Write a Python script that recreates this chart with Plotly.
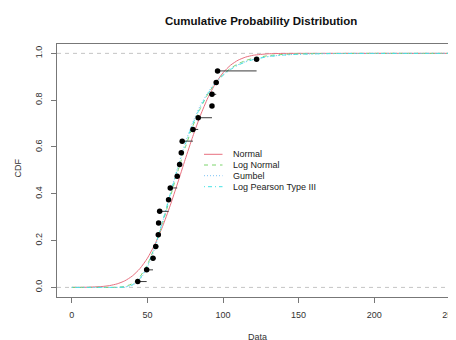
import plotly.graph_objects as go

# ---------------- data ----------------
obs_x = [43.6, 49.5, 53.7, 55.5, 57.2, 57.4, 58.1, 64.0, 65.1, 69.7,
         71.3, 72.4, 73.0, 80.1, 83.6, 92.7, 92.7, 95.5, 96.4, 122.2]
obs_p = [0.025, 0.075, 0.125, 0.175, 0.225, 0.275, 0.325, 0.375, 0.425, 0.475,
         0.525, 0.575, 0.625, 0.675, 0.725, 0.775, 0.825, 0.875, 0.925, 0.975]

curve_x = [0, 10, 20, 25, 30, 35, 40, 45, 50, 55, 60, 65, 70, 75, 80, 85, 90, 95,
           100, 105, 110, 115, 120, 130, 140, 150, 165, 180, 200, 225, 250]
cdf_normal = [0.0001, 0.0007, 0.0038, 0.0078, 0.0152, 0.0279, 0.0486, 0.08, 0.1248, 0.1848,
              0.2599, 0.3483, 0.4458, 0.5468, 0.6447, 0.734, 0.8102, 0.8712, 0.9171, 0.9495,
              0.9709, 0.9841, 0.9918, 0.9982, 0.9997, 1.0, 1.0, 1.0, 1.0, 1.0, 1.0]
cdf_lognormal = [0.0, 0.0, 0.0, 0.0, 0.0006, 0.004, 0.0161, 0.045, 0.0977, 0.1755,
                 0.2736, 0.3829, 0.4935, 0.5971, 0.6883, 0.7647, 0.826, 0.8737, 0.9097, 0.9363,
                 0.9555, 0.9692, 0.9789, 0.9902, 0.9956, 0.998, 0.9994, 0.9998, 1.0, 1.0, 1.0]
cdf_gumbel = [0.0, 0.0, 0.0, 0.0, 0.0001, 0.0015, 0.009, 0.0333, 0.0857, 0.1695,
              0.2775, 0.3962, 0.5124, 0.617, 0.7055, 0.7773, 0.8336, 0.8769, 0.9095, 0.9337,
              0.9517, 0.9649, 0.9745, 0.9866, 0.993, 0.9963, 0.9986, 0.9995, 0.9999, 1.0, 1.0]
cdf_lp3 = [0.0, 0.0, 0.0, 0.0, 0.0001, 0.0017, 0.0107, 0.0378, 0.0926, 0.1763,
           0.2814, 0.3958, 0.5082, 0.6104, 0.6982, 0.7702, 0.8275, 0.8719, 0.9057, 0.9309,
           0.9496, 0.9634, 0.9734, 0.986, 0.9926, 0.9961, 0.9984, 0.9994, 0.9998, 0.9999, 1.0]

series_names = ["Normal", "Log Normal", "Gumbel", "Log Pearson Type III"]
x_ticks = [0, 50, 100, 150, 200, 250]
y_ticks = [0.0, 0.2, 0.4, 0.6, 0.8, 1.0]
y_tick_labels = ["0.0", "0.2", "0.4", "0.6", "0.8", "1.0"]
ref_levels = [0, 1]

# ---------------- style ----------------
FONT = "Liberation Sans, Arial, sans-serif"
OFF = 8  # page body margin of the browser
W, H = 456 - OFF, 340 - OFF
# target plot box in window pixels: x 57..456 (cut), y 44..297
ML = 57 - OFF
MT = 44 - OFF
MR = 0
MB = H - (297 - OFF)
colors = ["#E8707F", "#7CD46C", "#7CC2F4", "#45E2E4"]
dashes = ["solid", "4px,4px", "1px,2px", "1px,3px,4px,3px"]
curves = [cdf_normal, cdf_lognormal, cdf_gumbel, cdf_lp3]

fig = go.Figure()

# reference lines at 0 and 1
for lv in ref_levels:
    fig.add_hline(y=lv, line=dict(color="#c4c4c4", width=1, dash="4px,4px"), layer="below")

# fitted curves
for name, ys, c, d in zip(series_names, curves, colors, dashes):
    fig.add_trace(go.Scatter(x=curve_x, y=ys, mode="lines", name=name,
                             line=dict(color=c, width=1, dash=d, shape="spline", smoothing=0.6),
                             showlegend=False, hoverinfo="skip"))

# step segments of the empirical distribution
seg_x, seg_y = [], []
for i in range(len(obs_x) - 1):
    seg_x += [obs_x[i], obs_x[i + 1], None]
    seg_y += [obs_p[i], obs_p[i], None]
fig.add_trace(go.Scatter(x=seg_x, y=seg_y, mode="lines",
                         line=dict(color="#3a3a3a", width=1), showlegend=False, hoverinfo="skip"))
fig.add_trace(go.Scatter(x=obs_x, y=obs_p, mode="markers",
                         marker=dict(color="black", size=5.5), showlegend=False))

# ---------------- layout ----------------
pw = W - ML - MR
ph = H - MT - MB


def px2paper(px, py):
    # window pixel -> paper coordinate
    return (px - OFF - ML) / pw, (H - MB - (py - OFF)) / ph


fig.update_layout(
    template="none",
    width=W, height=H, margin=dict(l=ML, r=MR, t=MT, b=MB, autoexpand=False),
    paper_bgcolor="white", plot_bgcolor="white",
    font=dict(family=FONT, size=9, color="#333333"),
    showlegend=False,
    xaxis=dict(range=[-9.8, 254.1], tickvals=x_ticks, ticks="outside", ticklen=5,
               tickcolor="#777777", showline=True, linecolor="#777777", linewidth=1,
               mirror=True, showgrid=False, zeroline=False, ticklabelstandoff=4,
               automargin=False, ticklabeloverflow="allow",
               tickfont=dict(family=FONT, size=9, color="#333333")),
    yaxis=dict(range=[-0.041, 1.04], tickvals=y_ticks, ticktext=y_tick_labels,
               ticks="outside", ticklen=5, tickcolor="#777777", showline=True,
               linecolor="#777777", linewidth=1, mirror=False, showgrid=False,
               zeroline=False, tickangle=-90, ticklabelstandoff=5, automargin=False,
               tickfont=dict(family=FONT, size=9, color="#333333")),
)

# title and axis labels
tx, ty = px2paper(261, 20.7)
fig.add_annotation(text="<b>Cumulative Probability Distribution</b>", xref="paper", yref="paper",
                   x=tx, y=ty, xanchor="center", yanchor="middle", showarrow=False,
                   font=dict(family=FONT, size=11.5, color="#111111"))
ax_, ay_ = px2paper(257, 330)
fig.add_annotation(text="Data", xref="paper", yref="paper", x=ax_, y=ay_,
                   xanchor="center", yanchor="top", showarrow=False,
                   font=dict(family=FONT, size=9, color="#333333"))
cx, cy = px2paper(17.5, 168)
fig.add_annotation(text="CDF", xref="paper", yref="paper", x=cx, y=cy, textangle=-90,
                   xanchor="center", yanchor="middle", showarrow=False,
                   font=dict(family=FONT, size=9, color="#333333"))

# legend (drawn manually, R style)
rows_py = [154.3, 165.0, 175.7, 186.7]
for name, c, d, py in zip(series_names, colors, dashes, rows_py):
    x0, yy = px2paper(204, py)
    x1, _ = px2paper(222.5, py)
    fig.add_shape(type="line", xref="paper", yref="paper", x0=x0, x1=x1, y0=yy, y1=yy,
                  line=dict(color=c, width=1, dash=d))
    lx, _ = px2paper(230.5, py)
    fig.add_annotation(text=name, xref="paper", yref="paper", x=lx, y=yy,
                       xanchor="left", yanchor="middle", showarrow=False,
                       font=dict(family=FONT, size=9, color="#222222"))

fig.write_html("out.html")
